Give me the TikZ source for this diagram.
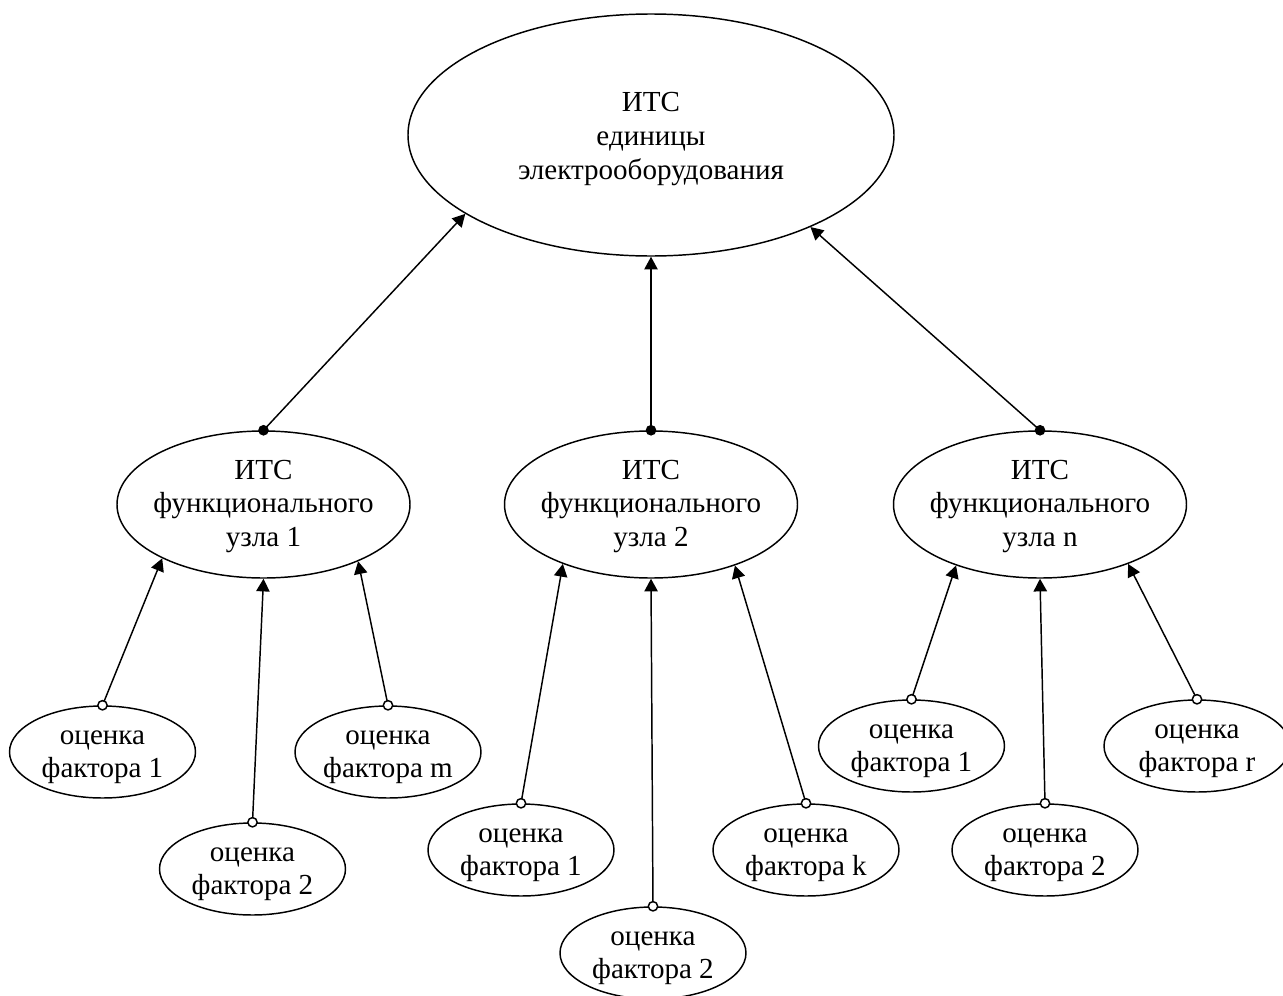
\documentclass[tikz,border=0pt]{standalone}
\usepackage{fontspec}
\setmainfont{Liberation Serif}
\usetikzlibrary{shapes.geometric,arrows.meta}
\begin{document}
\begin{tikzpicture}[x=0.75pt,y=-0.75pt,
  every node/.style={font=\fontsize{21.8}{25.2}\selectfont},
  oval/.style={ellipse,draw,line width=1.1pt,inner sep=0pt},
  topoval/.style={oval,minimum width=364.5pt,minimum height=181.5pt},
  midoval/.style={oval,minimum width=219.75pt,minimum height=110.25pt},
  leafoval/.style={oval,minimum width=139.5pt,minimum height=69pt},
  lbl/.style={align=center,inner sep=0pt},
  leaflbl/.style={lbl,yshift=-4pt},
  midlbl/.style={lbl,yshift=-1.5pt},
  toplbl/.style={lbl,yshift=-3pt},
  link/.style={line width=1.1pt,-{Triangle[length=9.5pt,width=10pt]}},
  soliddot/.style={circle,fill=black,inner sep=0pt,minimum size=8pt},
  opendot/.style={circle,draw,fill=white,line width=1.1pt,inner sep=0pt,minimum size=7pt}]
\useasboundingbox (0,0) rectangle (1283,996);
% ellipses
\node[topoval] (top) at (651,135) {};
\node[midoval] (f1) at (263.5,504.5) {};
\node[midoval] (f2) at (651,504.5) {};
\node[midoval] (fn) at (1040,504.5) {};
\node[leafoval] (l1a) at (102.5,752) {};
\node[leafoval] (l1b) at (252.5,869) {};
\node[leafoval] (l1m) at (388,752) {};
\node[leafoval] (l2a) at (521,850) {};
\node[leafoval] (l2b) at (653,953) {};
\node[leafoval] (l2k) at (806,850) {};
\node[leafoval] (lna) at (911.5,746) {};
\node[leafoval] (lnb) at (1045,850) {};
\node[leafoval] (lnr) at (1197,746) {};
% labels
\node[toplbl] (ttop) at (top) {ИТС\\единицы\\электрооборудования};
\node[midlbl] (tf1) at (f1) {ИТС\\функционального\\узла 1};
\node[midlbl] (tf2) at (f2) {ИТС\\функционального\\узла 2};
\node[midlbl] (tfn) at (fn) {ИТС\\функционального\\узла n};
\node[leaflbl] (tl1a) at (l1a) {оценка\\фактора 1};
\node[leaflbl] (tl1b) at (l1b) {оценка\\фактора 2};
\node[leaflbl] (tl1m) at (l1m) {оценка\\фактора m};
\node[leaflbl] (tl2a) at (l2a) {оценка\\фактора 1};
\node[leaflbl] (tl2b) at (l2b) {оценка\\фактора 2};
\node[leaflbl] (tl2k) at (l2k) {оценка\\фактора k};
\node[leaflbl] (tlna) at (lna) {оценка\\фактора 1};
\node[leaflbl] (tlnb) at (lnb) {оценка\\фактора 2};
\node[leaflbl] (tlnr) at (lnr) {оценка\\фактора r};
% connectors
\draw[link] (f1.north) -- (top.203);
\draw[link] (f2.north) -- (top.south);
\draw[link] (fn.north) -- (top.330.4);
\draw[link] (l1a.north) -- (f1.208.9);
\draw[link] (l1b.north) -- (f1.south);
\draw[link] (l1m.north) -- (f1.329.7);
\draw[link] (l2a.north) -- (f2.214.5);
\draw[link] (l2b.north) -- (f2.south);
\draw[link] (l2k.north) -- (f2.324.9);
\draw[link] (lna.north) -- (fn.216.3);
\draw[link] (lnb.north) -- (fn.south);
\draw[link] (lnr.north) -- (fn.326.1);
% tail markers
\node[soliddot] (d1) at (f1.north) {};
\node[soliddot] (d2) at (f2.north) {};
\node[soliddot] (dn) at (fn.north) {};
\node[opendot] (o1a) at (l1a.north) {};
\node[opendot] (o1b) at (l1b.north) {};
\node[opendot] (o1m) at (l1m.north) {};
\node[opendot] (o2a) at (l2a.north) {};
\node[opendot] (o2b) at (l2b.north) {};
\node[opendot] (o2k) at (l2k.north) {};
\node[opendot] (ona) at (lna.north) {};
\node[opendot] (onb) at (lnb.north) {};
\node[opendot] (onr) at (lnr.north) {};
\end{tikzpicture}
\end{document}
